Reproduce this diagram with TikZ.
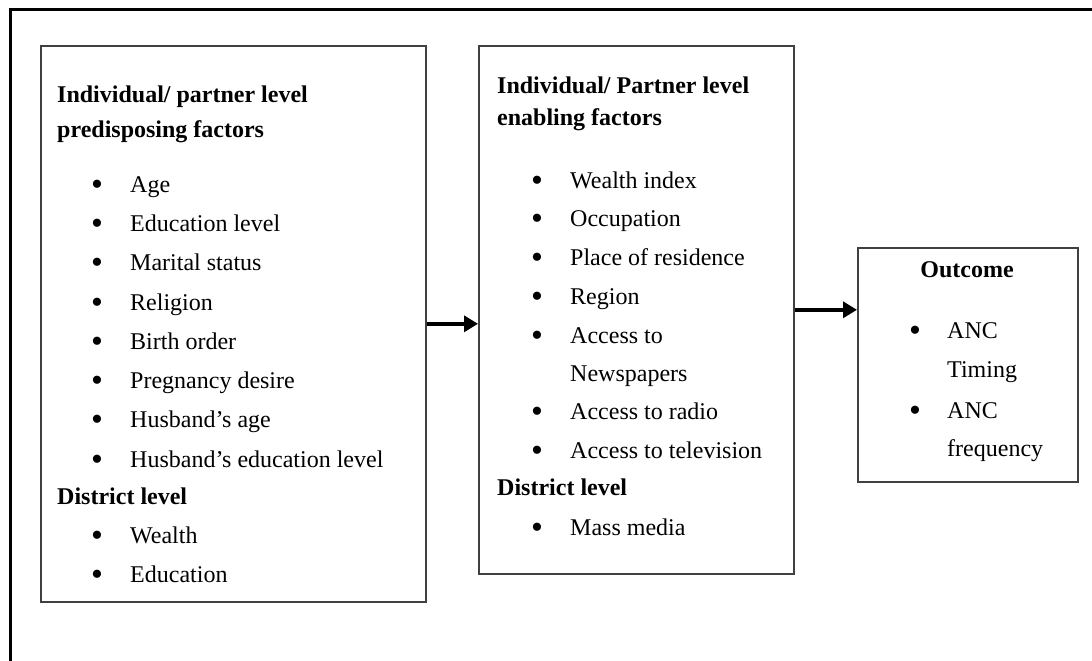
\documentclass[tikz,border=0pt]{standalone}
\usepackage{fontspec}
\setmainfont{Liberation Serif}
\usetikzlibrary{arrows.meta,positioning,calc}

\begin{document}
\begin{tikzpicture}[x=1pt, y=-1pt,
  box/.style={draw=black!75, line width=1.6pt, anchor=north west, inner sep=0pt},
  head/.style={anchor=base west, inner sep=0pt, font=\bfseries\fontsize{24}{32}\selectfont},
  item/.style={anchor=base west, inner sep=0pt, font=\fontsize{24}{39}\selectfont},
  dot/.style={anchor=base west, inner sep=0pt, font=\fontsize{34}{39}\selectfont},
  link/.style={line width=3.4pt, -{Triangle[length=14pt,width=16pt]}}]
  \useasboundingbox (0,0) rectangle (1092,661);

  % outer frame
  \draw[line width=3pt] (1092,10) -- (10,10) -- (10,661);

  % boxes
  \node[box, minimum width=385pt, minimum height=556pt] (pre) at (40,45) {};
  \node[box, minimum width=315pt, minimum height=528pt] (enb) at (478,45) {};
  \node[box, minimum width=220pt, minimum height=234pt] (out) at (857,247) {};

  % predisposing factors
  \node[head] (preh1) at (57,102) {Individual/ partner level};
  \node[head] (preh2) at (57,137) {predisposing factors};
  \foreach \yy/\txt [count=\i] in {192/Age, 231/Education level, 270/Marital status,
      310/Religion, 349/Birth order, 388/Pregnancy desire, 427/Husband’s age,
      467/Husband’s education level, 543/Wealth, 582/Education} {
    \node[dot] (preb\i) at (91,\yy+3) {\textbullet};
    \node[item] (pret\i) at (130,\yy) {\txt};
  }
  \node[head] (pred) at (57,504) {District level};

  % enabling factors
  \node[head] (enbh1) at (497,93) {Individual/ Partner level};
  \node[head] (enbh2) at (497,125) {enabling factors};
  \foreach \yy/\txt [count=\i] in {188/Wealth index, 226/Occupation, 265/Place of residence,
      304/Region, 343/Access to, 419/Access to radio, 458/Access to television,
      535/Mass media} {
    \node[dot] (enbb\i) at (531,\yy+3) {\textbullet};
    \node[item] (enbt\i) at (570,\yy) {\txt};
  }
  \node[item] (enbnews) at (570,381) {Newspapers};
  \node[head] (enbd) at (497,495) {District level};

  % outcome
  \node[head, anchor=base] (outh) at (967,277) {Outcome};
  \node[dot] (outb1) at (909,341) {\textbullet};
  \node[item] (outt1) at (947,338) {ANC};
  \node[item] (outt2) at (947,377) {Timing};
  \node[dot] (outb2) at (909,421) {\textbullet};
  \node[item] (outt3) at (947,418) {ANC};
  \node[item] (outt4) at (947,456) {frequency};

  % arrows
  \draw[link] (pre.east) -- (pre.east -| enb.west);
  \draw[link] (enb.east) -- (enb.east -| out.west);
\end{tikzpicture}
\end{document}
